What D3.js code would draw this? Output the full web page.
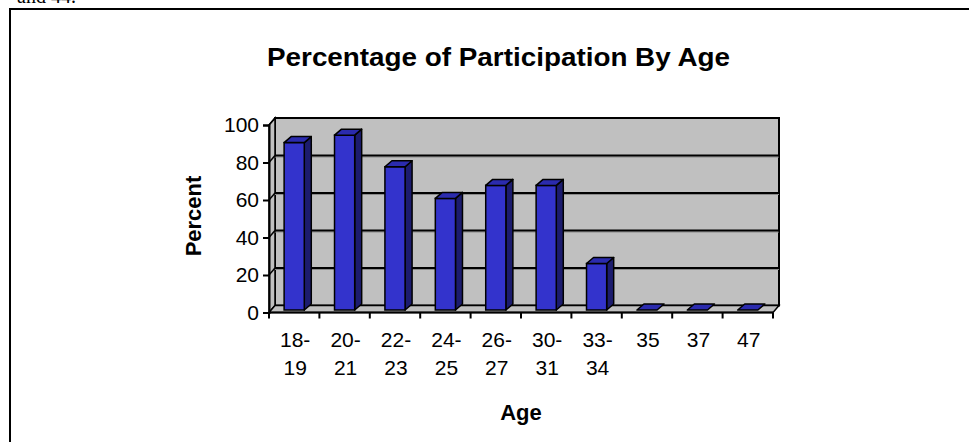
<!DOCTYPE html>
<html><head><meta charset="utf-8">
<script src="https://cdn.jsdelivr.net/npm/d3@7/dist/d3.min.js"></script>
<style>html,body{margin:0;padding:0;background:#fff;}svg{display:block;font-family:"Liberation Sans",Arial,sans-serif;}</style>
</head><body>
<script>
const categories = [["18-","19"],["20-","21"],["22-","23"],["24-","25"],["26-","27"],["30-","31"],["33-","34"],["35"],["37"],["47"]];
const values = [90, 94, 77, 60, 67, 67, 25, 0, 0, 0];
const yTicks = [0, 20, 40, 60, 80, 100];
const titleText = "Percentage of Participation By Age";
const xTitle = "Age";
const yTitle = "Percent";

const W = 969, H = 442;
const svg = d3.select("body").append("svg").attr("width", W).attr("height", H);

// fragment of preceding text (cut off at top, as in the reference)
svg.append("text").attr("x", 17).attr("y", 3).attr("font-family", "Liberation Serif, serif")
  .attr("font-size", 20).text("and 44.");

// frame
svg.append("rect").attr("x", 10).attr("y", 9).attr("width", 1000).attr("height", 500)
  .attr("fill", "none").attr("stroke", "#000").attr("stroke-width", 2);

const keys = categories.map(c => c.join(""));
const x = d3.scaleBand().domain(keys).range([269, 773]).paddingInner(0).paddingOuter(0);
const yFront = d3.scaleLinear().domain([0, 100]).range([312.5, 125]);
const yBack = d3.scaleLinear().domain([0, 100]).range([305.5, 118]);
const yBar = d3.scaleLinear().domain([0, 100]).range([310, 124]);
const dx = 6;
const x0 = x.range()[0], x1 = x.range()[1];
const wall = "#C0C0C0";

// back wall
svg.append("rect").attr("x", x0 + dx).attr("y", yBack(100)).attr("width", x1 - x0)
  .attr("height", yBack(0) - yBack(100)).attr("fill", wall).attr("stroke", "#000").attr("stroke-width", 2);
// left wall
svg.append("path").attr("d", `M${x0},${yFront(0)}L${x0},${yFront(100)}L${x0+dx},${yBack(100)}L${x0+dx},${yBack(0)}Z`)
  .attr("fill", wall).attr("stroke", "#000").attr("stroke-width", 1.5);
// floor
svg.append("path").attr("d", `M${x0},${yFront(0)}L${x1},${yFront(0)}L${x1+dx},${yBack(0)}L${x0+dx},${yBack(0)}Z`)
  .attr("fill", wall).attr("stroke", "#000").attr("stroke-width", 1.5);

// gridlines
yTicks.filter(t => t > 0 && t < 100).forEach(t => {
  svg.append("line").attr("x1", x0 + dx).attr("x2", x1 + dx).attr("y1", yBack(t) + 1.5).attr("y2", yBack(t) + 1.5)
    .attr("stroke", "#8a8a8a").attr("stroke-width", 1);
  svg.append("line").attr("x1", x0 + dx).attr("x2", x1 + dx).attr("y1", yBack(t)).attr("y2", yBack(t))
    .attr("stroke", "#000").attr("stroke-width", 2);
});
yTicks.filter(t => t > 0).forEach(t => {
  svg.append("line").attr("x1", x0).attr("y1", yFront(t)).attr("x2", x0 + dx).attr("y2", yBack(t))
    .attr("stroke", "#000").attr("stroke-width", 1.5);
});

// bars
const bw = x.bandwidth() * 0.4;
const bdx = 7, bdy = -6;
const bars = svg.append("g");
values.forEach((v, i) => {
  const bx = x(keys[i]) + (x.bandwidth() - bw) / 2;
  const top = yBar(v), base = yBar(0);
  if (v > 0) {
    bars.append("path").attr("d", `M${bx+bw},${base}L${bx+bw},${top}L${bx+bw+bdx},${top+bdy}L${bx+bw+bdx},${base+bdy}Z`)
      .attr("fill", "#1C1C6E").attr("stroke", "#000").attr("stroke-width", 1.5).attr("stroke-linejoin", "round");
    bars.append("rect").attr("x", bx).attr("y", top).attr("width", bw).attr("height", base - top)
      .attr("fill", "#3333CC").attr("stroke", "#000").attr("stroke-width", 1.5);
  }
  bars.append("path").attr("d", `M${bx},${top}L${bx+bw},${top}L${bx+bw+bdx},${top+bdy}L${bx+bdx},${top+bdy}Z`)
    .attr("fill", "#2B2BAE").attr("stroke", "#000").attr("stroke-width", 1.5).attr("stroke-linejoin", "round");
});

// y axis
const yAxis = d3.axisLeft(yFront).tickValues(yTicks).tickSize(6).tickPadding(4).tickFormat(d3.format("d"));
const gy = svg.append("g").attr("transform", `translate(${x0},0)`).call(yAxis);
gy.select(".domain").attr("stroke", "#000").attr("stroke-width", 2);
gy.selectAll(".tick line").attr("stroke", "#000").attr("stroke-width", 2);
gy.selectAll(".tick text").attr("font-size", 21).attr("fill", "#000").attr("font-family", "Liberation Sans, Arial, sans-serif");

// x axis
const xEdges = d3.scaleLinear().domain([0, keys.length]).range([x0, x1]);
const gx = svg.append("g");
gx.append("line").attr("x1", x0).attr("x2", x1).attr("y1", yFront(0)).attr("y2", yFront(0)).attr("stroke", "#000").attr("stroke-width", 2);
d3.range(keys.length + 1).forEach(i => {
  gx.append("line").attr("x1", xEdges(i)).attr("x2", xEdges(i)).attr("y1", yFront(0)).attr("y2", yFront(0) + 6)
    .attr("stroke", "#000").attr("stroke-width", 2);
});
categories.forEach((c, i) => {
  const cx = x(keys[i]) + x.bandwidth() / 2 + 1;
  const t = gx.append("text").attr("x", cx).attr("y", 347)
    .attr("text-anchor", "middle").attr("font-size", 21).attr("fill", "#000");
  c.forEach((line, j) => t.append("tspan").attr("x", cx).attr("dy", j === 0 ? 0 : 28).text(line));
});

// titles
svg.append("text").attr("x", 498.5).attr("y", 66).attr("text-anchor", "middle").attr("font-size", 25)
  .attr("font-weight", "bold").attr("textLength", 463).attr("lengthAdjust", "spacingAndGlyphs").text(titleText);
svg.append("text").attr("x", 521).attr("y", 420).attr("text-anchor", "middle").attr("font-size", 22)
  .attr("font-weight", "bold").text(xTitle);
svg.append("text").attr("transform", "translate(201,216) rotate(-90)").attr("text-anchor", "middle")
  .attr("font-size", 22).attr("font-weight", "bold").text(yTitle);
</script>
</body></html>
